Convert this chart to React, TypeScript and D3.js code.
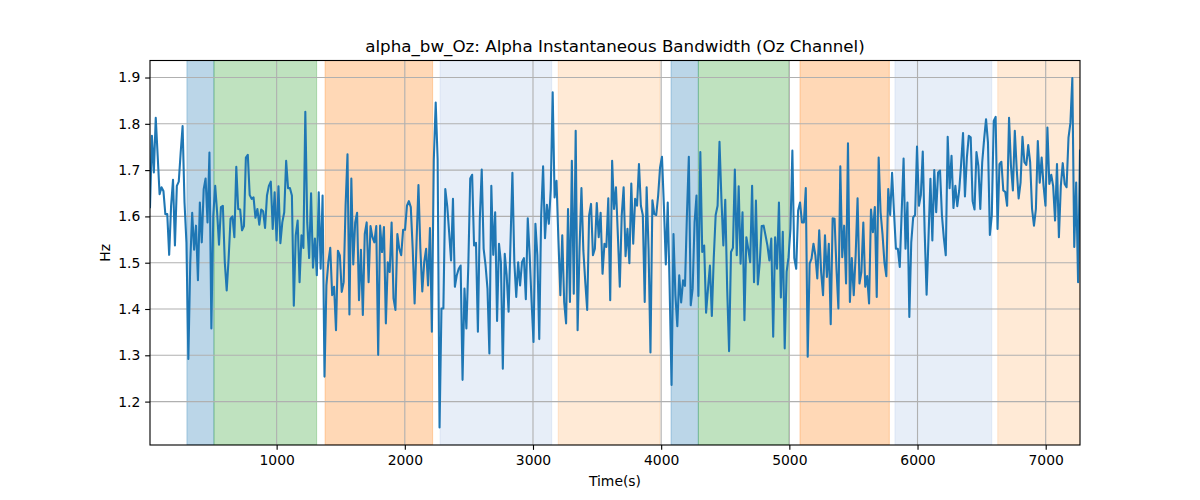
import { useRef, useEffect } from "react";
import * as d3 from "d3";

// bandwidth samples (Hz), read left to right off the reference, one every ~15 s
const seg1 = [1.62, 1.774, 1.695, 1.813, 1.731, 1.648, 1.663, 1.655, 1.605, 1.605, 1.517, 1.623, 1.679, 1.537, 1.666, 1.675, 1.738, 1.795, 1.63, 1.544, 1.292, 1.501, 1.608, 1.528, 1.58, 1.462, 1.63, 1.544, 1.659, 1.682, 1.587, 1.738, 1.358, 1.602, 1.666, 1.609, 1.539, 1.62, 1.623, 1.501, 1.44, 1.509, 1.595, 1.6, 1.555, 1.707, 1.616, 1.615, 1.57, 1.579, 1.727, 1.733, 1.646, 1.638, 1.641, 1.597, 1.616, 1.582, 1.615, 1.611, 1.575, 1.645, 1.666, 1.675];
const seg2 = [1.573, 1.652, 1.548, 1.665, 1.542, 1.587, 1.609, 1.72, 1.661, 1.661, 1.645, 1.407, 1.559, 1.591, 1.458, 1.559, 1.532, 1.826, 1.587, 1.51, 1.65, 1.489, 1.552, 1.473, 1.652, 1.487, 1.645, 1.254, 1.451, 1.501, 1.532, 1.43, 1.448, 1.354, 1.526, 1.516, 1.437, 1.458, 1.623, 1.734, 1.388, 1.682, 1.496, 1.587, 1.608, 1.419, 1.528, 1.387, 1.562, 1.587, 1.458, 1.579, 1.555, 1.544, 1.579, 1.301, 1.58, 1.523, 1.577, 1.369, 1.501, 1.48, 1.587, 1.423, 1.398];
const seg3 = [1.562, 1.53, 1.516, 1.571, 1.571, 1.623, 1.633, 1.62, 1.53, 1.412, 1.544, 1.668, 1.53, 1.438, 1.501, 1.53, 1.451, 1.575, 1.351, 1.722, 1.846, 1.724, 1.144, 1.401, 1.401, 1.659, 1.623, 1.566, 1.505, 1.638, 1.448, 1.473, 1.487, 1.494, 1.247, 1.444, 1.358, 1.494, 1.682, 1.69, 1.537, 1.543, 1.351, 1.595, 1.701, 1.53, 1.494, 1.444, 1.304, 1.666, 1.517, 1.609, 1.374, 1.541, 1.501, 1.271, 1.519, 1.473, 1.394, 1.544, 1.694, 1.501, 1.426, 1.501, 1.451];
const seg4 = [1.501, 1.51, 1.421, 1.596, 1.516, 1.415, 1.329, 1.584, 1.516, 1.335, 1.602, 1.708, 1.553, 1.625, 1.584, 1.659, 1.868, 1.641, 1.677, 1.548, 1.43, 1.559, 1.415, 1.369, 1.616, 1.415, 1.72, 1.433, 1.785, 1.354, 1.53, 1.661, 1.526, 1.458, 1.398, 1.602, 1.627, 1.516, 1.53, 1.629, 1.555, 1.608, 1.476, 1.541, 1.534, 1.639, 1.419, 1.72, 1.616, 1.663, 1.559, 1.448, 1.602, 1.663, 1.514, 1.573, 1.499, 1.671, 1.541, 1.638, 1.623, 1.713, 1.623, 1.603, 1.415];
const seg5 = [1.663, 1.53, 1.306, 1.635, 1.605, 1.603, 1.645, 1.706, 1.729, 1.623, 1.496, 1.63, 1.444, 1.236, 1.562, 1.43, 1.363, 1.473, 1.414, 1.462, 1.45, 1.602, 1.729, 1.408, 1.444, 1.587, 1.645, 1.428, 1.739, 1.523, 1.537, 1.392, 1.444, 1.494, 1.385, 1.51, 1.603, 1.623, 1.761, 1.638, 1.537, 1.636, 1.444, 1.309, 1.523, 1.532, 1.701, 1.516, 1.665, 1.498, 1.609, 1.376, 1.555, 1.53, 1.501, 1.666, 1.458, 1.634, 1.453, 1.501, 1.579, 1.58, 1.559, 1.537, 1.505];
const seg6 = [1.552, 1.34, 1.555, 1.487, 1.63, 1.425, 1.567, 1.315, 1.48, 1.512, 1.573, 1.742, 1.51, 1.487, 1.613, 1.63, 1.587, 1.587, 1.661, 1.297, 1.498, 1.509, 1.541, 1.516, 1.466, 1.57, 1.48, 1.43, 1.559, 1.469, 1.541, 1.367, 1.596, 1.595, 1.487, 1.401, 1.708, 1.512, 1.58, 1.455, 1.758, 1.415, 1.51, 1.43, 1.516, 1.639, 1.455, 1.48, 1.587, 1.448, 1.471, 1.412, 1.615, 1.566, 1.62, 1.426, 1.727, 1.609, 1.562, 1.501, 1.471, 1.659, 1.603, 1.694, 1.609, 1.53];
const seg7 = [1.53, 1.491, 1.609, 1.725, 1.53, 1.63, 1.383, 1.544, 1.598, 1.603, 1.751, 1.623, 1.646, 1.74, 1.566, 1.431, 1.555, 1.681, 1.548, 1.7, 1.609, 1.695, 1.699, 1.602, 1.553, 1.516, 1.772, 1.661, 1.731, 1.618, 1.666, 1.622, 1.656, 1.713, 1.78, 1.643, 1.727, 1.774, 1.771, 1.633, 1.615, 1.739, 1.709, 1.616, 1.717, 1.767, 1.81, 1.76, 1.56, 1.602, 1.806, 1.815, 1.573, 1.713, 1.718, 1.656, 1.653, 1.623, 1.813, 1.709, 1.656, 1.785, 1.702, 1.639];
const seg8 = [1.673, 1.772, 1.717, 1.711, 1.754, 1.717, 1.616, 1.58, 1.616, 1.763, 1.673, 1.727, 1.666, 1.623, 1.792, 1.67, 1.69, 1.666, 1.591, 1.713, 1.555, 1.666, 1.715, 1.67, 1.663, 1.77, 1.802, 1.899, 1.534, 1.673, 1.458, 1.742];

const bandwidth = [...seg1, ...seg2, ...seg3, ...seg4, ...seg5, ...seg6, ...seg7, ...seg8];
const tStart = 12;
const tStep = 14.96;

// shaded phases: start / end in seconds, and colour
const spanStart = [300, 511, 1378, 2275, 3197, 4077, 4290, 5083, 5824, 6626];
const spanEnd = [511, 1312, 2217, 3146, 3991, 4290, 4997, 5780, 6579, 7400];
const spanColor = ["#1f77b4", "#2ca02c", "#ff7f0e", "#aec7e8", "#ffbb78", "#1f77b4", "#2ca02c", "#ff7f0e", "#aec7e8", "#ffbb78"];

const xTicks = [1000, 2000, 3000, 4000, 5000, 6000, 7000];
const yTicks = [1.2, 1.3, 1.4, 1.5, 1.6, 1.7, 1.8, 1.9];

const FONT = "DejaVu Sans, sans-serif";
const PT = 100 / 72; // matplotlib points -> px at 100 dpi

export default function App() {
  const refEl = useRef<HTMLDivElement | null>(null);

  useEffect(() => {
    if (!refEl.current) return;
    const container = refEl.current;
    container.innerHTML = "";

    const W = 1200, H = 500;
    const margin = { top: 60.5, right: 120, bottom: 55, left: 150 };
    const plotW = W - margin.left - margin.right;
    const plotH = H - margin.top - margin.bottom;

    const data = bandwidth.map((v, i) => ({ t: tStart + i * tStep, v }));

    const svg = d3.select(container).append("svg")
      .attr("width", W)
      .attr("height", H)
      .style("position", "absolute")
      .style("left", "0px")
      .style("top", "0px")
      .style("background", "#fff");

    const x = d3.scaleLinear().range([0, plotW]).domain(d3.extent(data, d => d.t) as [number, number]);
    const [lo, hi] = d3.extent(data, d => d.v) as [number, number];
    const pad = (hi - lo) * 0.05;
    const y = d3.scaleLinear().range([plotH, 0]).domain([lo - pad, hi + pad]);

    const g = svg.append("g").attr("transform", `translate(${margin.left},${margin.top})`);

    const clip = svg.append("defs").append("clipPath").attr("id", "plot-clip");
    clip.append("rect").attr("width", plotW).attr("height", plotH);

    // phase spans
    const spans = g.append("g").attr("clip-path", "url(#plot-clip)");
    spanStart.forEach((s, i) => {
      const x0 = x(s), x1 = Math.min(x(spanEnd[i]), plotW);
      spans.append("rect")
        .attr("x", x0).attr("y", 0)
        .attr("width", x1 - x0).attr("height", plotH)
        .attr("fill", spanColor[i]).attr("fill-opacity", 0.3)
        .attr("stroke", spanColor[i]).attr("stroke-opacity", 0.3).attr("stroke-width", 1);
    });

    // grid
    const grid = g.append("g");
    xTicks.forEach(t => {
      grid.append("line").attr("x1", x(t)).attr("x2", x(t)).attr("y1", 0).attr("y2", plotH)
        .attr("stroke", "#b0b0b0").attr("stroke-width", 0.8 * PT);
    });
    yTicks.forEach(t => {
      grid.append("line").attr("x1", 0).attr("x2", plotW).attr("y1", y(t)).attr("y2", y(t))
        .attr("stroke", "#b0b0b0").attr("stroke-width", 0.8 * PT);
    });

    // line
    const line = d3.line<{ t: number; v: number }>().x(d => x(d.t)).y(d => y(d.v));
    g.append("path")
      .datum(data)
      .attr("clip-path", "url(#plot-clip)")
      .attr("fill", "none")
      .attr("stroke", "#1f77b4")
      .attr("stroke-width", 1.5 * PT)
      .attr("stroke-linejoin", "round")
      .attr("stroke-linecap", "square")
      .attr("d", line as any);

    // axes
    const tk = 3.5 * PT;
    const xAxis = d3.axisBottom(x).tickValues(xTicks).tickSize(tk).tickPadding(tk).tickFormat(d3.format("d") as any);
    const yAxis = d3.axisLeft(y).tickValues(yTicks).tickSize(tk).tickPadding(tk).tickFormat(d3.format(".1f") as any);
    const ax = g.append("g").attr("transform", `translate(0,${plotH})`).call(xAxis);
    const ay = g.append("g").call(yAxis);
    [ax, ay].forEach(a => {
      a.select(".domain").remove();
      a.selectAll("line").attr("stroke", "#000").attr("stroke-width", 0.8 * PT);
      a.selectAll("text").attr("font-family", FONT).attr("font-size", "13.9px").attr("fill", "#000");
    });

    // frame
    g.append("rect").attr("width", plotW).attr("height", plotH)
      .attr("fill", "none").attr("stroke", "#000").attr("stroke-width", 0.8 * PT);

    // labels
    svg.append("text").attr("x", margin.left + plotW / 2).attr("y", 52)
      .attr("text-anchor", "middle").attr("font-family", FONT).attr("font-size", "16.7px")
      .text("alpha_bw_Oz: Alpha Instantaneous Bandwidth (Oz Channel)");
    svg.append("text").attr("x", margin.left + plotW / 2).attr("y", 486)
      .attr("text-anchor", "middle").attr("font-family", FONT).attr("font-size", "13.9px")
      .text("Time(s)");
    svg.append("text").attr("transform", `translate(110,${margin.top + plotH / 2}) rotate(-90)`)
      .attr("text-anchor", "middle").attr("font-family", FONT).attr("font-size", "13.9px")
      .text("Hz");

    return () => {
      svg.remove();
    };
  }, []);

  return <div ref={refEl} style={{ width: 1200, height: 500 }} />;
}
